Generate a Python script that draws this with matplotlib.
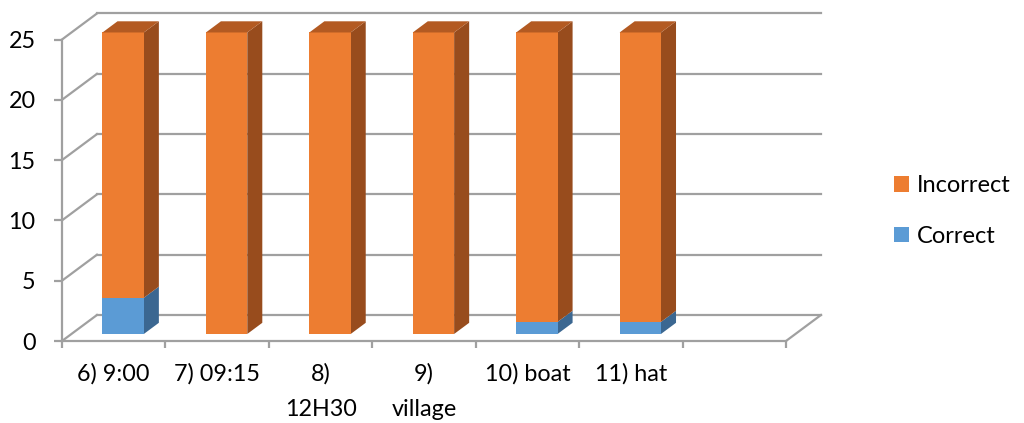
import matplotlib.pyplot as plt
from matplotlib.patches import Polygon, Patch

plt.rcParams['font.family'] = ['Lato', 'DejaVu Sans']

# Answers per item
categories = ["6) 9:00", "7) 09:15", "8)\n12H30", "9)\nvillage", "10) boat", "11) hat"]
correct = [3, 0, 0, 0, 1, 1]
incorrect = [22, 25, 25, 25, 24, 24]
yticks = [0, 5, 10, 15, 20, 25]

n_slots = len(categories) + 1  # one empty slot at the right end
DX, DY = 0.338, 2.156          # oblique depth offset (slots, value units)
Z0, Z1 = 0.27, 0.70            # bar front / back depth
GRID = '#A0A0A0'

colors = {
    'Correct': ('#5B9BD5', '#3B6791', '#4A80B0'),
    'Incorrect': ('#ED7D31', '#984C1D', '#B35A22'),
}

fig = plt.figure(figsize=(10.24, 4.23), dpi=100)
ax = fig.add_axes([62 / 1024, 82 / 423, 724 / 1024, 301.5 / 423])
ax.set_xlim(0, n_slots)
ax.set_ylim(0, yticks[-1])

for s in ['top', 'right']:
    ax.spines[s].set_visible(False)
for s in ['left', 'bottom']:
    ax.spines[s].set_color(GRID)
    ax.spines[s].set_linewidth(1.6)

# walls: side diagonals and back gridlines
for v in yticks:
    ax.plot([0, DX], [v, v + DY], color=GRID, lw=1.6, clip_on=False, zorder=1)
    ax.plot([DX, n_slots + DX], [v + DY, v + DY], color=GRID, lw=1.6,
            clip_on=False, zorder=1)
ax.plot([n_slots, n_slots + DX], [0, DY], color=GRID, lw=1.6, clip_on=False, zorder=1)


def block(x0, x1, y0, y1, cols, with_top):
    face, side, top = cols
    fx, fy = Z0 * DX, Z0 * DY
    bx, by = Z1 * DX, Z1 * DY
    front = [(x0 + fx, y0 + fy), (x1 + fx, y0 + fy), (x1 + fx, y1 + fy), (x0 + fx, y1 + fy)]
    right = [(x1 + fx, y0 + fy), (x1 + bx, y0 + by), (x1 + bx, y1 + by), (x1 + fx, y1 + fy)]
    ax.add_patch(Polygon(right, closed=True, fc=side, ec='none', clip_on=False, zorder=3))
    ax.add_patch(Polygon(front, closed=True, fc=face, ec='none', clip_on=False, zorder=3))
    if with_top:
        lid = [(x0 + fx, y1 + fy), (x1 + fx, y1 + fy), (x1 + bx, y1 + by), (x0 + bx, y1 + by)]
        ax.add_patch(Polygon(lid, closed=True, fc=top, ec='none', clip_on=False, zorder=3))


for i in range(len(categories)):
    x0, x1 = i + 0.3, i + 0.7
    c, w = correct[i], incorrect[i]
    if c > 0:
        block(x0, x1, 0, c, colors['Correct'], w == 0)
    if w > 0:
        block(x0, x1, c, c + w, colors['Incorrect'], True)

ax.set_yticks(yticks)
ax.set_xticks(range(n_slots + 1))
ax.set_xticklabels([])
ax.set_xticks([i + 0.5 for i in range(len(categories))], minor=True)
ax.set_xticklabels(categories, minor=True)
ax.tick_params(axis='y', length=6, width=1.6, color=GRID, pad=13, labelsize=16.8)
ax.tick_params(axis='x', which='major', length=5, width=1.6, color=GRID)
ax.tick_params(axis='x', which='minor', length=0, pad=16, labelsize=16.8)
for t in ax.get_xticklabels(minor=True):
    t.set_linespacing(1.85)

handles = [Patch(fc=colors['Incorrect'][0], label='Incorrect'),
           Patch(fc=colors['Correct'][0], label='Correct')]
fig.legend(handles=handles, loc='center left', bbox_to_anchor=(873 / 1024, 1 - 211 / 423),
           frameon=False, fontsize=17, handlelength=0.62, handleheight=0.62,
           handletextpad=0.35, labelspacing=1.25)

fig.savefig('out.png', dpi=100)
